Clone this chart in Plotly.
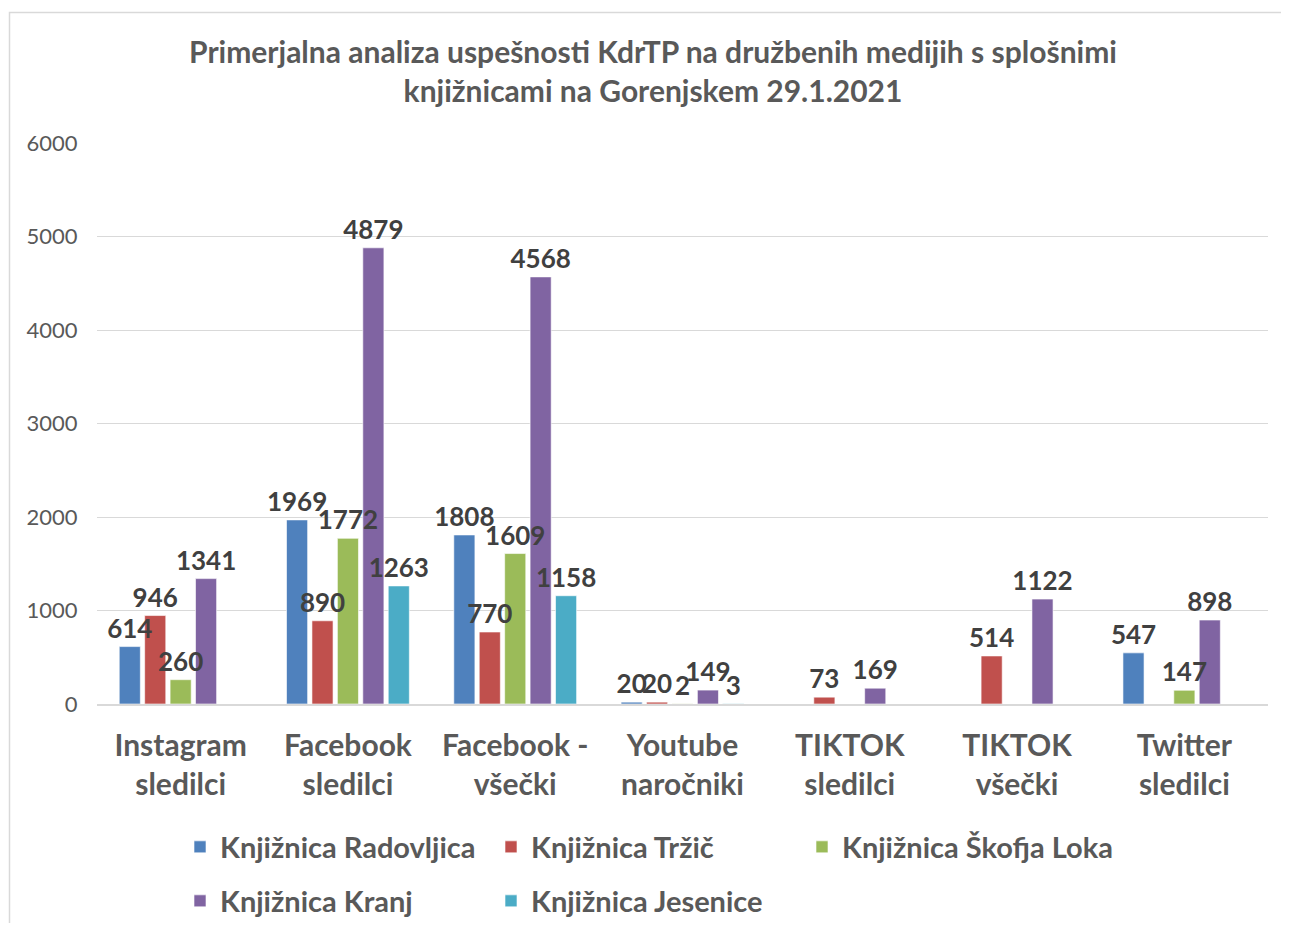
import plotly.graph_objects as go

categories = ["Instagram<br>sledilci", "Facebook<br>sledilci", "Facebook -<br>všečki",
              "Youtube<br>naročniki", "TIKTOK<br>sledilci", "TIKTOK<br>všečki", "Twitter<br>sledilci"]
series_names = ["Knjižnica Radovljica", "Knjižnica Tržič", "Knjižnica Škofja Loka",
                "Knjižnica Kranj", "Knjižnica Jesenice"]
radovljica = [614, 1969, 1808, 20, None, None, 547]
trzic = [946, 890, 770, 20, 73, 514, None]
skofja_loka = [260, 1772, 1609, 2, None, None, 147]
kranj = [1341, 4879, 4568, 149, 169, 1122, 898]
jesenice = [None, 1263, 1158, 3, None, None, None]
colors = ["#4F81BD", "#C0504D", "#9BBB59", "#8064A2", "#4BACC6"]
y_ticks = [0, 1000, 2000, 3000, 4000, 5000, 6000]

FONT = "Lato"
OFF = 8  # page body margin
W, H = 1289 - 2 * OFF, 931 - 2 * OFF
# plot area in reference pixel coords
PL, PR, PT, PB = 97, 1268, 143, 704
L, R, T, B = PL - OFF, W - (PR - OFF), PT - OFF, H - (PB - OFF)
pw = W - L - R
ph = H - T - B


def px_x(x):
    return (x - OFF - L) / pw


def px_y(y):
    return (H - B - (y - OFF)) / ph


fig = go.Figure()
all_vals = [radovljica, trzic, skofja_loka, kranj, jesenice]
# bars
for i, (name, vals) in enumerate(zip(series_names, all_vals)):
    fig.add_trace(go.Bar(
        x=categories, y=vals, name="<b>" + name + "</b>",
        marker=dict(color=colors[i], line=dict(width=1, color="rgba(255,255,255,0.6)")),
        offsetgroup=str(i),
        legend="legend" if i < 3 else "legend2",
        hoverinfo="skip",
    ))
# labels drawn on top of all bars
for i, (name, vals) in enumerate(zip(series_names, all_vals)):
    fig.add_trace(go.Bar(
        x=categories, y=vals, name=name,
        marker=dict(color="rgba(0,0,0,0)", line=dict(width=0)),
        offsetgroup=str(i),
        text=[("<b>%d</b>" % v) if v is not None else "" for v in vals],
        textposition="outside",
        textfont=dict(family=FONT, size=26, color="#404040"),
        cliponaxis=False,
        constraintext="none",
        showlegend=False,
        hoverinfo="skip",
    ))

fig.update_layout(
    width=W, height=H,
    margin=dict(l=L, r=R, t=T, b=B, autoexpand=False),
    paper_bgcolor="white", plot_bgcolor="white",
    barmode="group", bargap=0.24, bargroupgap=0.17,
    font=dict(family=FONT, color="#595959"),
    title=dict(
        text="<b>Primerjalna analiza uspešnosti KdrTP na družbenih medijih s splošnimi<br>knjižnicami na Gorenjskem 29.1.2021</b>",
        x=(653 - OFF) / W, xanchor="center", y=1 - (63 - OFF) / H, yanchor="middle",
        font=dict(family=FONT, size=30, color="#595959"),
    ),
    xaxis=dict(
        tickfont=dict(family=FONT, size=30, color="#595959"),
        tickprefix="<b>", ticksuffix="</b>",
        showline=True, linecolor="#D9D9D9", linewidth=2,
        ticks="outside", ticklen=14, tickcolor="rgba(0,0,0,0)", showgrid=False,
        automargin=False,
    ),
    yaxis=dict(
        range=[0, 6000], tickvals=y_ticks,
        tickfont=dict(family=FONT, size=22, color="#595959"),
        gridcolor="#D9D9D9", gridwidth=1, zeroline=False,
        ticks="outside", ticklen=14, tickcolor="rgba(0,0,0,0)",
        automargin=False,
    ),
    legend=dict(
        orientation="h", x=px_x(180), xanchor="left", y=px_y(847), yanchor="middle",
        entrywidth=266, entrywidthmode="pixels",
        font=dict(family=FONT, size=29, color="#595959"),
        bgcolor="rgba(0,0,0,0)",
    ),
    legend2=dict(
        orientation="h", x=px_x(180), xanchor="left", y=px_y(901), yanchor="middle",
        entrywidth=266, entrywidthmode="pixels",
        font=dict(family=FONT, size=29, color="#595959"),
        bgcolor="rgba(0,0,0,0)",
    ),
    shapes=[dict(
        type="rect", xref="paper", yref="paper",
        x0=px_x(9.5), x1=px_x(1300), y0=px_y(940), y1=px_y(12.5),
        line=dict(color="#D9D9D9", width=1.5), fillcolor="rgba(0,0,0,0)", layer="below",
    )],
)

fig.write_html("out.html")
